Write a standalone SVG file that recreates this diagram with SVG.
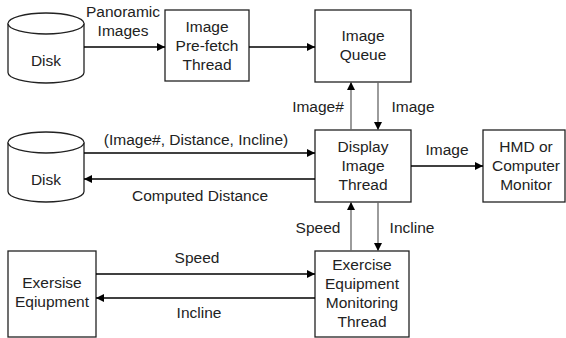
<svg xmlns="http://www.w3.org/2000/svg" width="566" height="338" viewBox="0 0 566 338">
<defs>
<marker id="ah" viewBox="0 0 10 10" refX="10" refY="5" markerWidth="8" markerHeight="8" markerUnits="userSpaceOnUse" orient="auto">
<path d="M0,0 L10,5 L0,10 z" fill="#000"/>
</marker>
<style>
.b{fill:#fff;stroke:#222;stroke-width:1.3}
.t{font-family:"Liberation Sans",Arial,sans-serif;font-size:15.5px;fill:#222;text-anchor:middle}
.c line{stroke:#000;stroke-width:1.3}
.c line.g{stroke:#666}
.a{marker-end:url(#ah)}
</style>
</defs>
<rect width="566" height="338" fill="#fff"/>
<g id="disk1">
<path class="b" d="M8,23.5 A38,10.5 0 0 1 84,23.5 L84,72.5 A38,10.5 0 0 1 8,72.5 Z"/>
<path class="b" fill="none" d="M8,23.5 A38,10.5 0 0 0 84,23.5"/>
<text class="t" x="46" y="66">Disk</text>
</g>
<g id="prefetch">
<rect class="b" x="165" y="10" width="84" height="71"/>
<text class="t" x="207" y="32">Image</text>
<text class="t" x="207" y="51">Pre-fetch</text>
<text class="t" x="207" y="70">Thread</text>
</g>
<g id="queue">
<rect class="b" x="315" y="10" width="96" height="72"/>
<text class="t" x="363" y="41">Image</text>
<text class="t" x="363" y="60">Queue</text>
</g>
<g id="disk2">
<path class="b" d="M8,142.5 A38,10.5 0 0 1 84,142.5 L84,191.5 A38,10.5 0 0 1 8,191.5 Z"/>
<path class="b" fill="none" d="M8,142.5 A38,10.5 0 0 0 84,142.5"/>
<text class="t" x="46" y="185">Disk</text>
</g>
<g id="display">
<rect class="b" x="315" y="130" width="96" height="72"/>
<text class="t" x="363" y="152">Display</text>
<text class="t" x="363" y="171">Image</text>
<text class="t" x="363" y="190">Thread</text>
</g>
<g id="hmd">
<rect class="b" x="483" y="130" width="82" height="72"/>
<text class="t" x="526" y="152">HMD or</text>
<text class="t" x="526" y="171">Computer</text>
<text class="t" x="526" y="190">Monitor</text>
</g>
<g id="equipment">
<rect class="b" x="8" y="251" width="88" height="86"/>
<text class="t" x="52" y="288">Exersise</text>
<text class="t" x="52" y="307">Eqiupment</text>
</g>
<g id="monitoring">
<rect class="b" x="315" y="251" width="94" height="86"/>
<text class="t" x="362" y="270">Exercise</text>
<text class="t" x="362" y="289">Equipment</text>
<text class="t" x="362" y="308">Monitoring</text>
<text class="t" x="362" y="327">Thread</text>
</g>
<g id="connectors" class="c">
<line class="a" x1="84" y1="47" x2="165" y2="47"/>
<line class="a" x1="249" y1="47" x2="315" y2="47"/>
<line class="a g" x1="351" y1="130" x2="351" y2="82"/>
<line class="a g" x1="378" y1="82" x2="378" y2="130"/>
<line class="a" x1="84" y1="153" x2="315" y2="153"/>
<line class="a" x1="315" y1="179" x2="84" y2="179"/>
<line class="a" x1="411" y1="166" x2="483" y2="166"/>
<line class="a g" x1="351" y1="251" x2="351" y2="202"/>
<line class="a g" x1="378" y1="202" x2="378" y2="251"/>
<line class="a" x1="96" y1="274" x2="315" y2="274"/>
<line class="a" x1="315" y1="298" x2="96" y2="298"/>
</g>
<g id="labels">
<text class="t" x="123" y="17">Panoramic</text>
<text class="t" x="123" y="36">Images</text>
<text class="t" x="318" y="112">Image#</text>
<text class="t" x="413" y="112">Image</text>
<text class="t" x="196" y="145">(Image#, Distance, Incline)</text>
<text class="t" x="200" y="201">Computed Distance</text>
<text class="t" x="447" y="155">Image</text>
<text class="t" x="318" y="233">Speed</text>
<text class="t" x="412" y="233">Incline</text>
<text class="t" x="197" y="263">Speed</text>
<text class="t" x="199" y="318">Incline</text>
</g>
</svg>
